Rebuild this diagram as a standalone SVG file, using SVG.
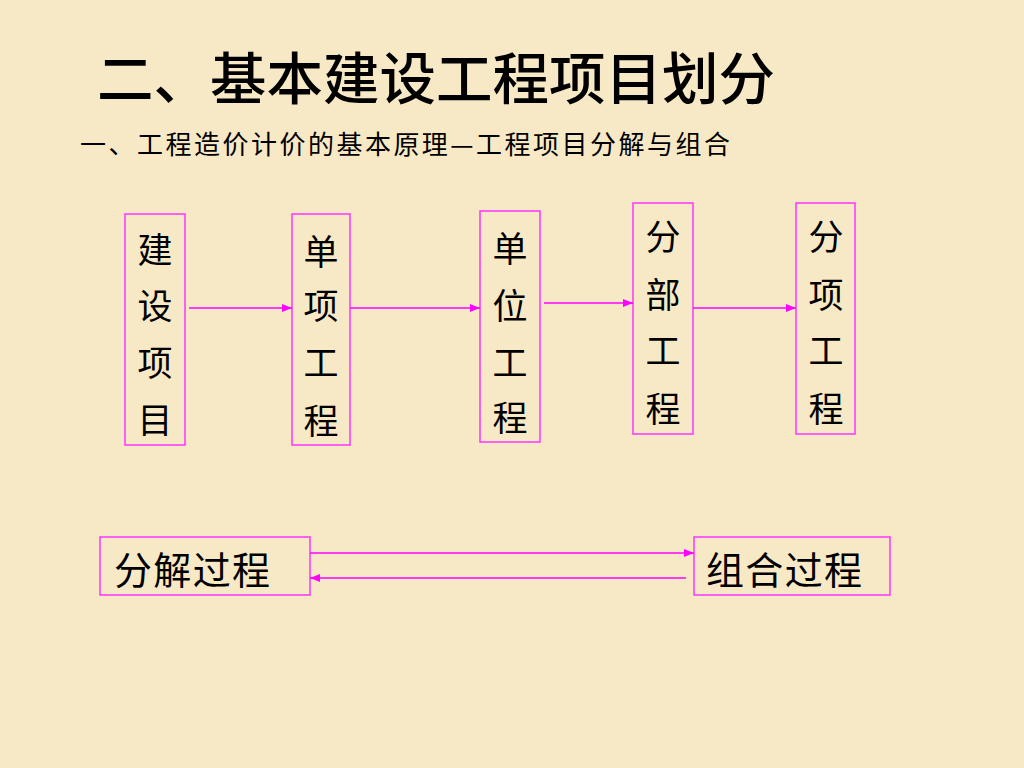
<svg xmlns="http://www.w3.org/2000/svg" width="1024" height="768" viewBox="0 0 1024 768">
<style>
.box{fill:none;stroke:#FF33FF;stroke-width:1.5}
.v{font-family:"Noto Sans CJK SC","Noto Sans CJK JP",sans-serif;font-size:35px;fill:#000;text-anchor:middle;dominant-baseline:central}
.h{font-family:"Noto Sans CJK SC","Noto Sans CJK JP",sans-serif;font-size:38px;fill:#000;dominant-baseline:central}
.c{stroke:#FF00FF;stroke-width:1.5;fill:none;marker-end:url(#ah)}
</style>
<defs>
<marker id="ah" markerWidth="10" markerHeight="8" refX="10" refY="4" orient="auto" markerUnits="userSpaceOnUse">
<path d="M0,0 L10,4 L0,8 Z" fill="#FF00FF"/>
</marker>
</defs>
<rect width="1024" height="768" fill="#F8E9C6"/>
<text x="97" y="74" font-family="'Noto Sans CJK SC',sans-serif" font-size="56" font-weight="500" fill="#000" dominant-baseline="central" textLength="678" lengthAdjust="spacingAndGlyphs">二、基本建设工程项目划分</text>
<text x="80" y="142" font-family="'Noto Sans CJK SC',sans-serif" font-size="26" fill="#000" dominant-baseline="central" textLength="650" lengthAdjust="spacing">一、工程造价计价的基本原理—工程项目分解与组合</text>
<g id="n1">
<rect class="box" x="125" y="214" width="60" height="231"/>
<text class="v" x="155" y="247">建</text><text class="v" x="155" y="303">设</text><text class="v" x="155" y="360">项</text><text class="v" x="155" y="417">目</text>
</g>
<g id="n2">
<rect class="box" x="292" y="214" width="58" height="231"/>
<text class="v" x="321" y="249">单</text><text class="v" x="321" y="303">项</text><text class="v" x="321" y="360">工</text><text class="v" x="321" y="418">程</text>
</g>
<g id="n3">
<rect class="box" x="480" y="211" width="60" height="231"/>
<text class="v" x="510" y="246">单</text><text class="v" x="510" y="303">位</text><text class="v" x="510" y="360">工</text><text class="v" x="510" y="415">程</text>
</g>
<g id="n4">
<rect class="box" x="633" y="203" width="60" height="231"/>
<text class="v" x="663" y="234">分</text><text class="v" x="663" y="292">部</text><text class="v" x="663" y="348">工</text><text class="v" x="663" y="406">程</text>
</g>
<g id="n5">
<rect class="box" x="796" y="203" width="59" height="231"/>
<text class="v" x="826" y="234">分</text><text class="v" x="826" y="292">项</text><text class="v" x="826" y="348">工</text><text class="v" x="826" y="406">程</text>
</g>
<g id="n6">
<rect class="box" x="100" y="537" width="210" height="58"/>
<text class="h" x="114" y="567" textLength="156">分解过程</text>
</g>
<g id="n7">
<rect class="box" x="694" y="537" width="196" height="58"/>
<text class="h" x="706" y="567" textLength="156">组合过程</text>
</g>
<g id="connectors">
<line class="c" x1="189" y1="308" x2="292" y2="308"/>
<line class="c" x1="350" y1="308" x2="480" y2="308"/>
<line class="c" x1="544" y1="303" x2="633" y2="303"/>
<line class="c" x1="693" y1="308" x2="796" y2="308"/>
<line class="c" x1="310" y1="553" x2="694" y2="553"/>
<line class="c" x1="686" y1="578" x2="310" y2="578"/>
</g>
</svg>
